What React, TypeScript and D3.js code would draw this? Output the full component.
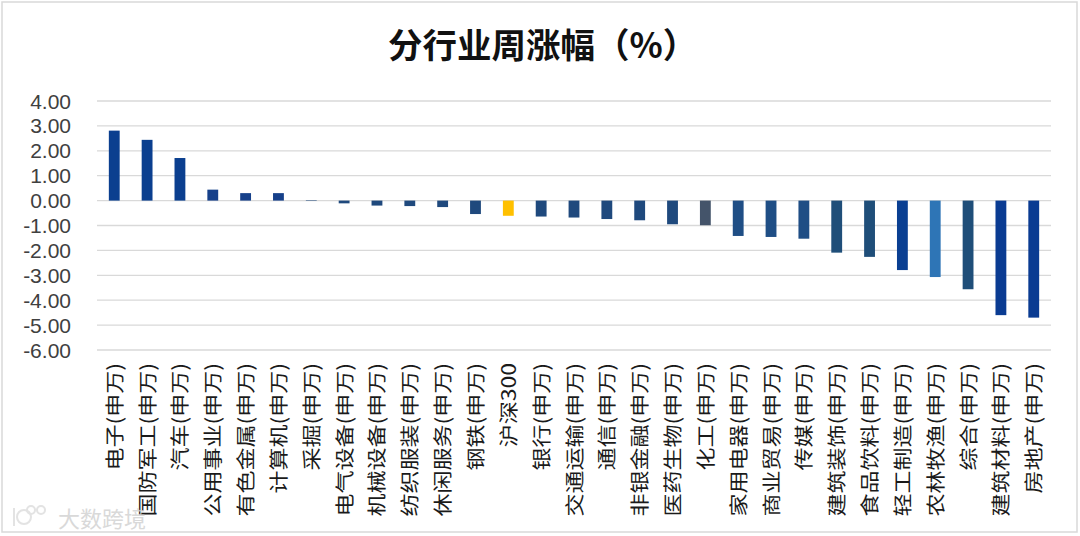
import * as d3 from "d3";

const categories = [
  "电子(申万)", "国防军工(申万)", "汽车(申万)", "公用事业(申万)", "有色金属(申万)",
  "计算机(申万)", "采掘(申万)", "电气设备(申万)", "机械设备(申万)", "纺织服装(申万)",
  "休闲服务(申万)", "钢铁(申万)", "沪深300", "银行(申万)", "交通运输(申万)",
  "通信(申万)", "非银金融(申万)", "医药生物(申万)", "化工(申万)", "家用电器(申万)",
  "商业贸易(申万)", "传媒(申万)", "建筑装饰(申万)", "食品饮料(申万)", "轻工制造(申万)",
  "农林牧渔(申万)", "综合(申万)", "建筑材料(申万)", "房地产(申万)",
];

const weeklyChange = [
  2.81, 2.44, 1.71, 0.44, 0.3,
  0.3, 0.01, -0.11, -0.2, -0.22,
  -0.26, -0.54, -0.61, -0.64, -0.68,
  -0.74, -0.79, -0.95, -0.99, -1.42,
  -1.46, -1.53, -2.09, -2.26, -2.79,
  -3.07, -3.56, -4.6, -4.7,
];

const yTicks = [4, 3, 2, 1, 0, -1, -2, -3, -4, -5, -6];

// one fill per bar, same order as categories
const barColors = [
  "#0b3f8f", "#0b3f8f", "#0b3f8f", "#16408a", "#16408a",
  "#16408a", "#1f497d", "#1f497d", "#1f497d", "#1f497d",
  "#1f497d", "#1f497d", "#ffc000", "#1f497d", "#1f497d",
  "#1f497d", "#1f497d", "#1f497d", "#44546a", "#1f4e85",
  "#1f4e85", "#1f4e85", "#1f4e79", "#1f4e79", "#0a3f92",
  "#2e75b6", "#1f4e79", "#0a3b92", "#0a3b92",
];

const W = 1080;
const H = 536;
const plot = { left: 98, right: 1050, top: 101, bottom: 350 };
const cjk = "'Noto Sans CJK SC', 'Noto Sans', sans-serif";
const labelSize = 19.5;

export default function App() {
  const x = d3
    .scaleBand<string>()
    .domain(categories)
    .range([plot.left, plot.right])
    .paddingInner(0.67)
    .paddingOuter(0.33);

  const y = d3.scaleLinear().domain([-6, 4]).range([plot.bottom, plot.top]);

  const color = d3.scaleOrdinal<string, string>().domain(categories).range(barColors);

  return (
    <div style={{ position: "absolute", left: 0, top: 0 }}>
      <svg width={W} height={H} style={{ display: "block", background: "#fff" }}>
        <rect x={2} y={2} width={W - 5} height={H - 6} fill="#fff" stroke="#d9d9d9" strokeWidth={1.5} />

        <text
          x={388}
          y={58}
          fontFamily={cjk}
          fontWeight="bold"
          fontSize={34.5}
          fill="#111"
        >
          分行业周涨幅
          <tspan dx={0}>（%）</tspan>
        </text>

        {yTicks.map((t) => (
          <g key={t}>
            <line
              x1={97}
              x2={1051}
              y1={y(t)}
              y2={y(t)}
              stroke="#d9d9d9"
              strokeWidth={1.3}
            />
            <text
              x={71}
              y={y(t)}
              dy="0.36em"
              textAnchor="end"
              fontFamily="'Liberation Sans', Arial, sans-serif"
              fontSize={21}
              fill="#404040"
            >
              {t.toFixed(2)}
            </text>
          </g>
        ))}

        {categories.map((c, i) => {
          const v = weeklyChange[i];
          const y0 = y(0);
          const y1 = y(v);
          return (
            <rect
              key={c}
              x={x(c)}
              width={x.bandwidth()}
              y={Math.min(y0, y1)}
              height={Math.max(Math.abs(y1 - y0), 0.5)}
              fill={color(c)}
            />
          );
        })}

        {categories.map((c) => {
          const cx = (x(c) ?? 0) + x.bandwidth() / 2;
          return (
            <text
              key={"l" + c}
              transform={`translate(${cx + 7.5},${363}) rotate(-90) scale(1.18,1)`}
              textAnchor="end"
              fontFamily={cjk}
              fontSize={labelSize}
              fill="#1a1a1a"
            >
              {c}
            </text>
          );
        })}

        <g opacity={0.5} fill="none" stroke="#c8c8c8" strokeWidth={2}>
          <path d="M14,508 L14,526" />
          <circle cx={24} cy={517} r={7} />
          <circle cx={31} cy={510} r={4} />
          <circle cx={41} cy={510} r={4} />
        </g>
        <text
          x={58}
          y={527}
          fontFamily={cjk}
          fontSize={22}
          fill="#d0d0d0"
          opacity={0.8}
        >
          大数跨境
        </text>
      </svg>
    </div>
  );
}
